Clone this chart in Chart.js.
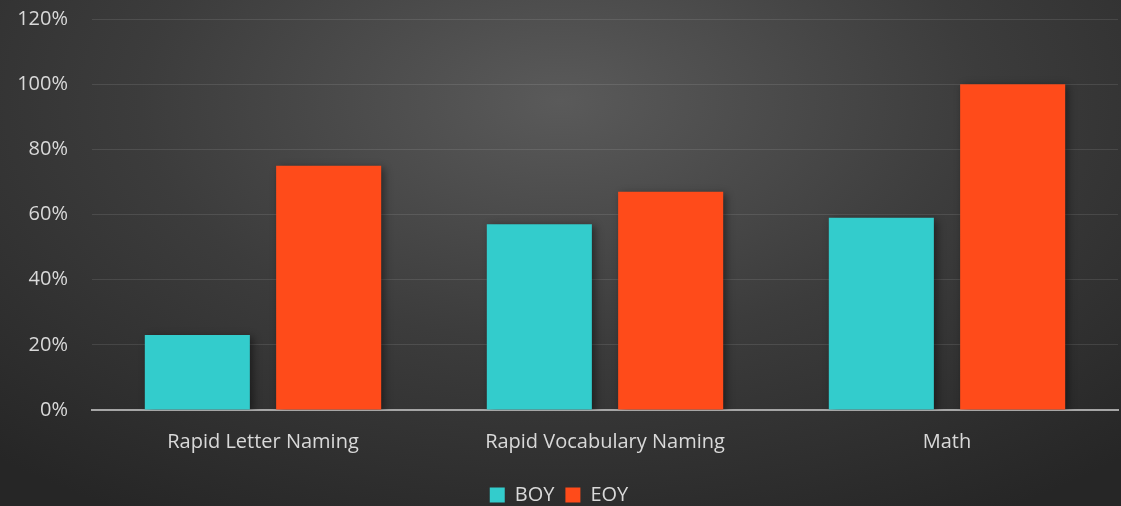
<!DOCTYPE html>
<html><head><meta charset="utf-8">
<script src="https://cdn.jsdelivr.net/npm/chart.js@4"></script>
<style>
html,body{margin:0;padding:0;}
body{width:1121px;height:506px;overflow:hidden;background:radial-gradient(ellipse 75% 95% at 50% 20%, #5a5a5a 0%, #3c3c3c 50%, #262626 100%);}
#wrap{width:1121px;height:506px;position:relative;}
</style></head><body>
<div id="wrap"><canvas id="c" width="1121" height="506"></canvas></div>
<script>
const categories = ["Rapid Letter Naming", "Rapid Vocabulary Naming", "Math"];
const boyValues = [23, 57, 59];
const eoyValues = [75, 67, 100];
const seriesNames = ["BOY", "EOY"];
const yTicks = [0, 20, 40, 60, 80, 100, 120];

const shadowPlugin = {
  id: 'shadow',
  beforeDatasetsDraw(chart){ const c=chart.ctx; c.save(); c.shadowColor='rgba(0,0,0,0.45)'; c.shadowBlur=8; c.shadowOffsetX=3; c.shadowOffsetY=2; },
  afterDatasetsDraw(chart){ chart.ctx.restore(); }
};

const font = {family: "'Open Sans', sans-serif", size: 20};
new Chart(document.getElementById('c'), {
  type: 'bar',
  data: {
    labels: categories,
    datasets: [
      {label: seriesNames[0], data: boyValues, backgroundColor: '#33CCCC', borderWidth: 0},
      {label: seriesNames[1], data: eoyValues, backgroundColor: '#FF4B1A', borderWidth: 0}
    ]
  },
  plugins: [shadowPlugin],
  options: {
    responsive: false,
    animation: false,
    devicePixelRatio: 1,
    layout: {padding: {left: 0, right: 3, top: 19, bottom: -9}},
    datasets: {bar: {categoryPercentage: 0.768, barPercentage: 0.80}},
    plugins: {
      legend: {position: 'bottom', labels: {color: '#d9d9d9', font: font, boxWidth: 15, boxHeight: 15, padding: 11}},
      tooltip: {enabled: false}
    },
    scales: {
      x: {
        grid: {display: false, drawTicks: false},
        border: {color: '#a6a6a6', width: 2},
        ticks: {color: '#d9d9d9', font: font, padding: 20}
      },
      y: {
        min: 0, max: 120,
        afterFit(scale){ scale.width = 92; scale.paddingTop = 0; scale.paddingBottom = 0; },
        afterBuildTicks(scale){ scale.ticks = yTicks.map(v => ({value: v})); },
        grid: {color: 'rgba(255,255,255,0.1)', lineWidth: 1, drawTicks: false},
        border: {display: false},
        ticks: {color: '#d9d9d9', font: font, padding: 24, callback: v => v + '%'}
      }
    }
  }
});
</script>
</body></html>
